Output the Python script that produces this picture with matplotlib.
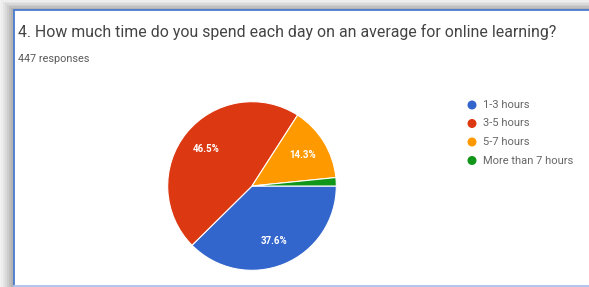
import matplotlib
matplotlib.use("Agg")
import matplotlib.pyplot as plt
from matplotlib.patches import Rectangle

plt.rcParams['font.family'] = ['Roboto', 'DejaVu Sans']

title = "4. How much time do you spend each day on an average for online learning?"
subtitle = "447 responses"
categories = ["1-3 hours", "3-5 hours", "5-7 hours", "More than 7 hours"]
values = [37.6, 46.5, 14.3, 1.6]
colors = ["#3366cc", "#dc3912", "#ff9900", "#109618"]

W, H = 589, 287
fig = plt.figure(figsize=(W / 100, H / 100), dpi=100)
fig.patch.set_facecolor("white")

bg = fig.add_axes([0, 0, 1, 1])
bg.set_xlim(0, W)
bg.set_ylim(H, 0)
bg.axis("off")
# soft shadow around the card (top and left)
shades = ["#eeeeee", "#e4e4e4", "#d9d9d9", "#cdcdcd", "#c0c0c0", "#b3b3b3", "#a6a6a6"]
bg.add_patch(Rectangle((0, 0), W, H, facecolor="#f2f2f2", edgecolor="none"))
n = len(shades)
for i, c in enumerate(shades):
    t = (i + 1) / n
    bg.add_patch(Rectangle((14 * t - 1, 10 * t - 1), W, H, facecolor=c, edgecolor="none"))
bg.add_patch(Rectangle((14, 10), W, 276, facecolor="white", edgecolor="#4a7bd0", linewidth=1.3))
bg.plot([14, W], [286, 286], color="#c5d5ef", lw=1.2)

bg.text(18, 32, title, fontsize=11.4, color="#444444", va="center", ha="left")
bg.text(18, 59, subtitle, fontsize=7.8, color="#5a5a5a", va="center", ha="left")

# pie
cx, cy, r = 252, 186, 86
ax = fig.add_axes([(cx - r) / W, (H - cy - r) / H, 2 * r / W, 2 * r / H])
wedges, texts = ax.pie(values, colors=colors, startangle=0, counterclock=False,
                       radius=1, labels=[f"{v:.1f}%" if v > 5 else "" for v in values],
                       labeldistance=0.7,
                       wedgeprops=dict(edgecolor="white", linewidth=0.8),
                       textprops=dict(color="white", fontsize=7, fontweight="bold"))
for t in texts:
    t.set_ha("center")
    t.set_va("center")
ax.set_xlim(-1.02, 1.02)
ax.set_ylim(-1.02, 1.02)
ax.set_aspect("equal")

# legend
ys = [105, 123.5, 142, 160.5]
for cat, col, y in zip(categories, colors, ys):
    bg.scatter([472], [y], s=42, color=col, edgecolor="none")
    bg.text(483, y, cat, fontsize=8, color="#666666", va="center", ha="left")

fig.savefig("out.png", dpi=100)
